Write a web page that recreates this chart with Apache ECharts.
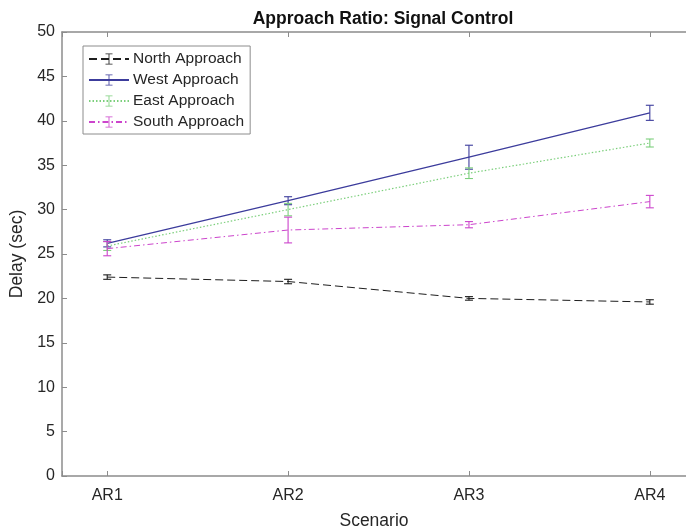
<!DOCTYPE html>
<html>
<head>
<meta charset="utf-8">
<script src="https://cdn.jsdelivr.net/npm/echarts@6/dist/echarts.min.js"></script>
<style>
  html, body { margin: 0; padding: 0; background: #fff; }
  #chart { width: 686px; height: 531px; }
</style>
</head>
<body>
<div id="chart"></div>
<script>
// Scenario labels along the x axis
const scenarios = ['AR1', 'AR2', 'AR3', 'AR4'];

// Mean delay (sec) per approach and its error half-width
const north = [22.4, 21.9, 20.0, 19.6];
const northErr = [0.25, 0.25, 0.2, 0.25];
const west = [26.2, 31.0, 35.9, 40.9];
const westErr = [0.4, 0.45, 1.35, 0.85];
const east = [25.9, 30.0, 34.1, 37.5];
const eastErr = [0.5, 0.7, 0.6, 0.45];
const south = [25.6, 27.7, 28.3, 30.9];
const southErr = [0.8, 1.45, 0.35, 0.7];

const yTicks = [0, 5, 10, 15, 20, 25, 30, 35, 40, 45, 50];

const FONT = '"Liberation Sans", Arial, sans-serif';
const AXIS_GRAY = '#8c8c8c';
const TEXT = '#262626';

// I-beam glyph used as the legend marker
const IBEAM = 'path://M0,0M3,0H13V1.2H8.6V14.8H13V16H3V14.8H7.4V1.2H3ZM16,16';

const approaches = [
  { name: 'North Approach', mean: north, err: northErr, color: '#1e1e1e', type: [8, 4], width: 1 },
  { name: 'West Approach', mean: west, err: westErr, color: '#3c3c9c', type: 'solid', width: 1.3 },
  { name: 'East Approach', mean: east, err: eastErr, color: '#7ccf7c', type: [1.5, 2], width: 1.2 },
  { name: 'South Approach', mean: south, err: southErr, color: '#cc44cc', type: [6, 3, 1.5, 3], width: 1 }
];

const lineSeries = approaches.map(a => ({
  name: a.name,
  type: 'line',
  data: a.mean.map((v, i) => [i + 1, v]),
  symbol: IBEAM,
  symbolSize: 12,
  showSymbol: false,
  lineStyle: { color: a.color, type: a.type, width: a.width },
  itemStyle: { color: a.color },
  emphasis: { disabled: true },
  silent: true,
  z: 2
}));

// Vertical error bars with short caps at both ends
const errorSeries = approaches.map(a => ({
  name: a.name,
  type: 'custom',
  data: a.mean.map((v, i) => [i + 1, v - a.err[i], v + a.err[i]]),
  encode: { x: 0, y: [1, 2] },
  silent: true,
  z: 3,
  renderItem: function (params, api) {
    const lo = api.coord([api.value(0), api.value(1)]);
    const hi = api.coord([api.value(0), api.value(2)]);
    const cap = 4;
    const style = { stroke: a.color, lineWidth: 1.1 };
    return {
      type: 'group',
      children: [
        { type: 'line', shape: { x1: lo[0], y1: lo[1], x2: hi[0], y2: hi[1] }, style },
        { type: 'line', shape: { x1: lo[0] - cap, y1: lo[1], x2: lo[0] + cap, y2: lo[1] }, style },
        { type: 'line', shape: { x1: hi[0] - cap, y1: hi[1], x2: hi[0] + cap, y2: hi[1] }, style }
      ]
    };
  }
}));

const chart = echarts.init(document.getElementById('chart'), null, { renderer: 'canvas' });

// The plot box runs past the right edge of the canvas, so the axis stops at 4.2
const xAxisBase = {
  type: 'value',
  min: 0.75,
  max: 4.2,
  minInterval: 1,
  maxInterval: 1,
  splitLine: { show: false },
  axisLine: { show: true, lineStyle: { color: AXIS_GRAY, width: 1.5 } },
  axisTick: { show: true, inside: true, length: 5, lineStyle: { color: AXIS_GRAY } }
};

chart.setOption({
  animation: false,
  backgroundColor: '#ffffff',
  title: {
    text: 'Approach Ratio: Signal Control',
    left: 378,
    textAlign: 'center',
    top: 5,
    textStyle: { fontFamily: FONT, fontSize: 17.5, fontWeight: 'bold', color: '#111' }
  },
  grid: { left: 62, right: 0, top: 32, bottom: 55, show: false, outerBoundsMode: 'none', containLabel: false },
  legend: {
    orient: 'vertical',
    left: 83,
    top: 46,
    data: approaches.map(a => a.name),
    itemWidth: 40,
    itemHeight: 14,
    itemGap: 5,
    padding: [5, 6, 4, 5],
    borderColor: '#8c8c8c',
    borderWidth: 1,
    backgroundColor: '#ffffff',
    selectedMode: false,
    textStyle: { fontFamily: FONT, fontSize: 15.5, color: TEXT, padding: [0, 0, 0, -1] }
  },
  xAxis: [
    Object.assign({}, xAxisBase, {
      position: 'bottom',
      name: 'Scenario',
      nameLocation: 'middle',
      nameGap: 36,
      nameTextStyle: { fontFamily: FONT, fontSize: 17.5, color: TEXT },
      axisLabel: {
        fontFamily: FONT, fontSize: 16, color: TEXT, margin: 12,
        formatter: v => (Number.isInteger(v) ? scenarios[v - 1] : '')
      }
    }),
    Object.assign({}, xAxisBase, {
      position: 'top',
      axisLabel: { show: false }
    })
  ],
  yAxis: {
    type: 'value',
    min: yTicks[0],
    max: yTicks[yTicks.length - 1],
    interval: yTicks[1] - yTicks[0],
    name: 'Delay (sec)',
    nameLocation: 'middle',
    nameGap: 26,
    nameTextStyle: { fontFamily: FONT, fontSize: 17.5, color: TEXT },
    splitLine: { show: false },
    axisLine: { show: true, lineStyle: { color: AXIS_GRAY, width: 1.5 } },
    axisTick: { show: true, inside: true, length: 5, lineStyle: { color: AXIS_GRAY } },
    axisLabel: { fontFamily: FONT, fontSize: 16, color: TEXT, margin: 7 }
  },
  series: lineSeries.concat(errorSeries)
});
</script>
</body>
</html>
